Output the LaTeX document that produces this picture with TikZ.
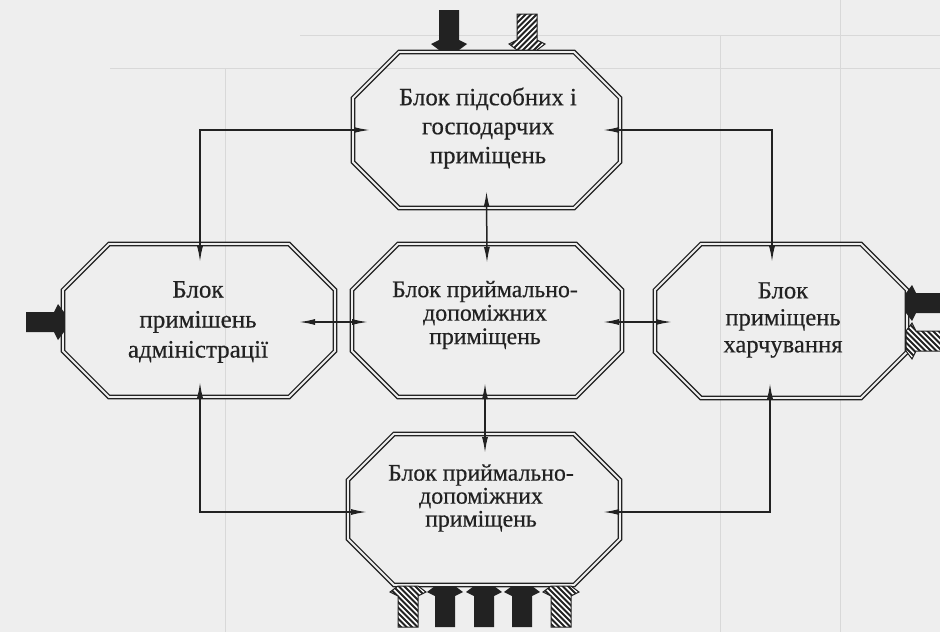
\documentclass[tikz,border=0pt]{standalone}
\usepackage{fontspec}
\setmainfont{Liberation Serif}[FakeBold=0.5]
\usetikzlibrary{arrows.meta}

\definecolor{ink}{HTML}{222222}
\definecolor{paper}{HTML}{EEEEEE}
\definecolor{faint}{HTML}{D8D8D8}

% octagonal outline drawn round a box node (#1), corners cut by #2
\newcommand\octframe[2]{%
  \draw[frame] ([xshift=#2]#1.north west) -- ([xshift=-#2]#1.north east)
    -- ([yshift=-#2]#1.north east) -- ([yshift=#2]#1.south east)
    -- ([xshift=-#2]#1.south east) -- ([xshift=#2]#1.south west)
    -- ([yshift=#2]#1.south west) -- ([yshift=-#2]#1.north west) -- cycle;}

% solid inlet arrow: tip, direction, length
\newcommand\solidarrow[3]{%
  \fill[ink, shift={#1}, rotate=#2] (-#3,-10) -- (-10,-10) -- (-6,-18) -- (0,-10)
    -- (0,10) -- (-6,18) -- (-10,10) -- (-#3,10) -- cycle;}

% hatched inlet arrow: tip, direction, length, stripe sense (1 or -1)
\newcommand\hatcharrow[4]{%
  \begin{scope}[shift={#1}, rotate=#2]
    \begin{scope}
      \clip (-#3,-10) -- (-10,-10) -- (-6,-18) -- (0,-10)
        -- (0,10) -- (-6,18) -- (-10,10) -- (-#3,10) -- cycle;
      \fill[white] (-70,-25) rectangle (5,25);
      \foreach \s in {-95,-89.5,...,30}
        \draw[ink, line width=1.8pt] (\s,-25*#4) -- ++(50,50*#4);
    \end{scope}
    \draw[ink, line width=1pt] (-#3,-10) -- (-10,-10) -- (-6,-18) -- (0,-10)
      -- (0,10) -- (-6,18) -- (-10,10) -- (-#3,10) -- cycle;
  \end{scope}}

\begin{document}
\begin{tikzpicture}[x=1pt, y=-1pt,
  box/.style={inner sep=0pt, outer sep=0pt, minimum width=#1},
  frame/.style={draw=ink, line width=1.4pt, double=paper, double distance=1.8pt},
  label/.style={align=center, text=ink, inner sep=0pt},
  conn/.style={draw=ink, line width=1.5pt,
    {Latex[length=16pt,width=6pt]}-{Latex[length=16pt,width=6pt]}},
  tablerule/.style={draw=faint, line width=0.9pt}]

  \useasboundingbox (0,0) rectangle (940,632);
  \fill[paper] (0,0) rectangle (940,632);

  % ruling of the printed table behind the scheme
  \draw[tablerule] (300,35) -- (940,35);
  \draw[tablerule] (110,68) -- (940,68);
  \draw[tablerule] (225,68) -- (225,632);
  \draw[tablerule] (720,35) -- (720,632);
  \draw[tablerule] (840,0) -- (840,632);

  % blocks
  \node[box=267pt, minimum height=156pt] (T) at (486.5,130) {};
  \node[box=272pt, minimum height=153pt] (L) at (199,320.5) {};
  \node[box=270pt, minimum height=153pt] (M) at (487,320.5) {};
  \node[box=252pt, minimum height=154pt] (R) at (781,321) {};
  \node[box=272pt, minimum height=151pt] (B) at (484,509.5) {};

  \foreach \b in {T,L,M,R,B} {\octframe{\b}{46pt}}

  \node[label, font=\fontsize{24.8}{29}\selectfont] (Tt) at (488,128)
    {Блок підсобних і\\господарчих\\приміщень};
  \node[label, font=\fontsize{25}{30}\selectfont] (Lt) at (198,322)
    {Блок\\примішень\\адміністрації};
  \node[label, font=\fontsize{23.8}{23.5}\selectfont] (Mt) at (485,315)
    {Блок приймально-\\допоміжних\\приміщень};
  \node[label, font=\fontsize{24.6}{27}\selectfont] (Rt) at (783,320)
    {Блок\\приміщень\\харчування};
  \node[label, font=\fontsize{23.8}{23}\selectfont] (Bt) at (481,498)
    {Блок приймально-\\допоміжних\\приміщень};

  % links between blocks
  \draw[conn] ([xshift=17pt]T.west) -| ([xshift=1pt,yshift=-18pt]L.north);
  \draw[conn] ([xshift=-17pt]T.east) -| ([xshift=-9pt,yshift=-18pt]R.north);
  \draw[conn] ([yshift=17pt]T.south) -- ([yshift=-19pt]M.north);
  \draw[conn] ([xshift=-36pt,yshift=-1.5pt]L.east) -- ([xshift=16pt,yshift=-1.5pt]M.west);
  \draw[conn] ([xshift=-19pt,yshift=-1.5pt]M.east) -- ([xshift=17pt,yshift=-1pt]R.west);
  \draw[conn] ([xshift=-2pt,yshift=14pt]M.south) -- ([xshift=1pt,yshift=-19pt]B.north);
  \draw[conn] ([xshift=1pt,yshift=15pt]L.south) |- ([xshift=19pt,yshift=-2.5pt]B.west);
  \draw[conn] ([xshift=-11pt,yshift=15pt]R.south) |- ([xshift=-17pt,yshift=-2.5pt]B.east);

  % inlets
  \solidarrow{(449,50)}{-90}{40}
  \hatcharrow{(527,50)}{-90}{36}{1}
  \solidarrow{(64,322)}{0}{38}
  \hatcharrow{(906,341)}{180}{40}{1}
  \solidarrow{(906,303)}{180}{40}
  \hatcharrow{(408,586)}{90}{41}{-1}
  \hatcharrow{(561,586)}{90}{41}{-1}
  \solidarrow{(445,586)}{90}{41}
  \solidarrow{(484,586)}{90}{41}
  \solidarrow{(522,586)}{90}{41}
\end{tikzpicture}
\end{document}
